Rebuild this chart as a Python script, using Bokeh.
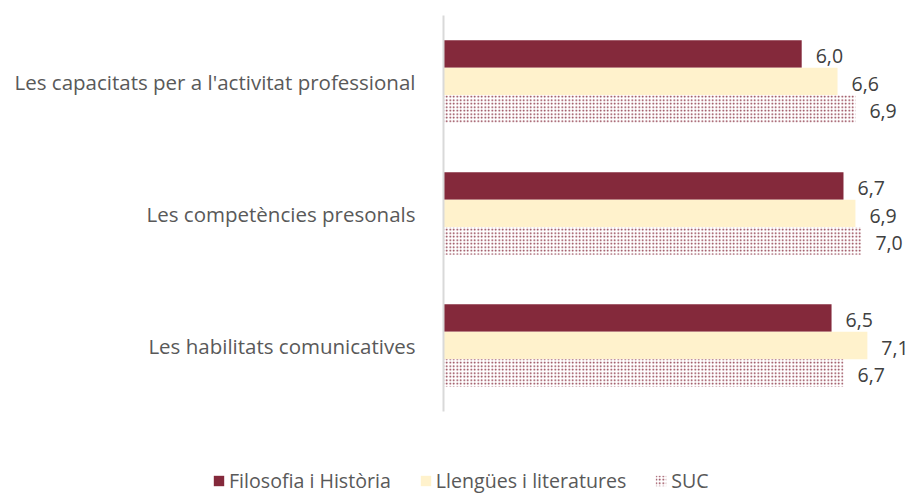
from bokeh.plotting import figure
from bokeh.models import ColumnDataSource, Range1d, LabelSet, Legend, LegendItem, FixedTicker
from bokeh.transform import dodge
from bokeh.embed import file_html
from bokeh.resources import INLINE
from bokeh.core.properties import value

categories = ["Les capacitats per a l'activitat professional",
              "Les competències presonals",
              "Les habilitats comunicatives"]
series_names = ["Filosofia i Història", "Llengües i literatures", "SUC"]
filosofia = [6.0, 6.7, 6.5]
llengues = [6.6, 6.9, 7.1]
suc = [6.9, 7.0, 6.7]


def fmt(v):
    return f"{v:.1f}".replace(".", ",")


n = len(categories)
ypos = [n - i - 0.5 for i in range(n)]  # first category at the top

src = ColumnDataSource(dict(
    cat=categories, ypos=ypos,
    fil=filosofia, lle=llengues, suc=suc,
    fil_lbl=[fmt(v) for v in filosofia],
    lle_lbl=[fmt(v) for v in llengues],
    suc_lbl=[fmt(v) for v in suc],
))

FONT = "Open Sans"
DARK = "#84293B"
CREAM = "#FFF2CC"

W, H = 916, 495
PX_X = 59.7    # px per value unit
PX_Y = 132.0   # px per category band
X0, Y_TOP = 443, 15

p = figure(width=W, height=H,
           x_range=Range1d(-X0 / PX_X, (W - X0) / PX_X),
           y_range=Range1d(n + Y_TOP / PX_Y - H / PX_Y, n + Y_TOP / PX_Y),
           output_backend="svg", toolbar_location=None,
           min_border_left=0, min_border_right=0,
           min_border_top=0, min_border_bottom=0)

BH = 0.208
offsets = [BH, 0.0, -BH]

r1 = p.hbar(y=dodge('ypos', offsets[0], range=p.y_range), right='fil', left=0, height=BH,
            source=src, fill_color=DARK, line_color=None)
r2 = p.hbar(y=dodge('ypos', offsets[1], range=p.y_range), right='lle', left=0, height=BH,
            source=src, fill_color=CREAM, line_color=None)
r3 = p.hbar(y=dodge('ypos', offsets[2], range=p.y_range), right='suc', left=0, height=BH,
            source=src, fill_color="white", line_color=None,
            hatch_pattern="dot", hatch_color=DARK, hatch_scale=3.5, hatch_weight=1.8)

for field, lbl, off in [("fil", "fil_lbl", offsets[0]), ("lle", "lle_lbl", offsets[1]), ("suc", "suc_lbl", offsets[2])]:
    ls = LabelSet(x=field, y=dodge('ypos', off, range=p.y_range), text=lbl, source=src,
                  x_offset=14, y_offset=-2, text_baseline="middle", text_align="left",
                  text_font=value(FONT), text_font_size="19.5px", text_color="#404040")
    p.add_layout(ls)

legend = Legend(items=[LegendItem(label=series_names[0], renderers=[r1]),
                       LegendItem(label=series_names[1], renderers=[r2]),
                       LegendItem(label=series_names[2], renderers=[r3])],
                orientation="horizontal", location=(212, 1),
                label_text_font=FONT, label_text_font_size="19.6px", label_text_color="#595959",
                glyph_width=13, glyph_height=13, label_standoff=4, spacing=28,
                padding=0, margin=0, border_line_color=None, background_fill_alpha=0)
p.add_layout(legend, "center")

p.xaxis.visible = False
p.xgrid.visible = False
p.ygrid.visible = False
p.outline_line_color = None

yax = p.yaxis[0]
yax.fixed_location = 0
yax.bounds = (0, n)
yax.ticker = FixedTicker(ticks=ypos)
yax.major_label_overrides = {y: c for y, c in zip(ypos, categories)}
yax.axis_line_color = "#D9D9D9"
yax.axis_line_width = 2
yax.major_tick_line_color = None
yax.minor_tick_line_color = None
yax.major_label_standoff = 22
yax.major_label_text_font = FONT
yax.major_label_text_font_size = "20.5px"
yax.major_label_text_color = "#595959"

open("out.html", "w").write(file_html(p, INLINE))
